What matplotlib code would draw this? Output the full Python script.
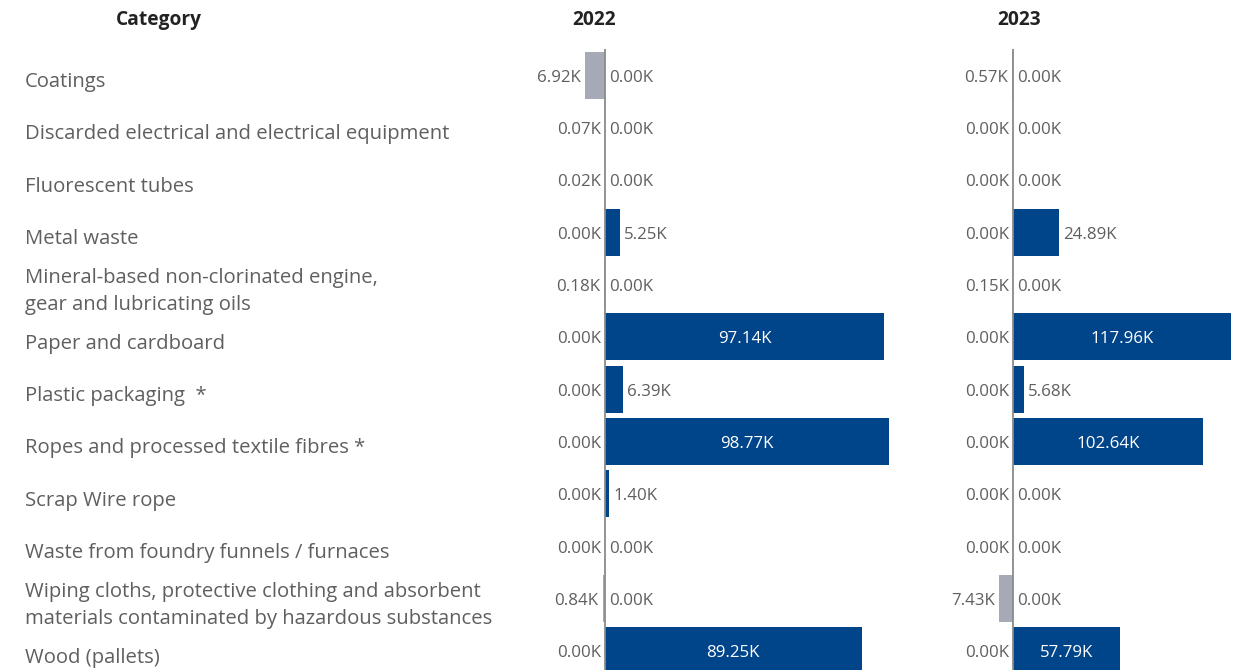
import matplotlib
matplotlib.use("Agg")
import matplotlib.pyplot as plt

categories = [
    "Coatings",
    "Discarded electrical and electrical equipment",
    "Fluorescent tubes",
    "Metal waste",
    "Mineral-based non-clorinated engine,\ngear and lubricating oils",
    "Paper and cardboard",
    "Plastic packaging  *",
    "Ropes and processed textile fibres *",
    "Scrap Wire rope",
    "Waste from foundry funnels / furnaces",
    "Wiping cloths, protective clothing and absorbent\nmaterials contaminated by hazardous substances",
    "Wood (pallets)",
]
years = ["2022", "2023"]
hazardous_2022 = [6.92, 0.07, 0.02, 0.00, 0.18, 0.00, 0.00, 0.00, 0.00, 0.00, 0.84, 0.00]
nonhaz_2022 = [0.00, 0.00, 0.00, 5.25, 0.00, 97.14, 6.39, 98.77, 1.40, 0.00, 0.00, 89.25]
hazardous_2023 = [0.57, 0.00, 0.00, 0.00, 0.15, 0.00, 0.00, 0.00, 0.00, 0.00, 7.43, 0.00]
nonhaz_2023 = [0.00, 0.00, 0.00, 24.89, 0.00, 117.96, 5.68, 102.64, 0.00, 0.00, 0.00, 57.79]

W, H = 1238, 670
fig = plt.figure(figsize=(W / 100, H / 100), dpi=100)
FONT = "Open Sans"
GREY = "#a6a9b6"
BLUE = "#004489"
TXT = "#5f5f5f"
VAL_FS = 12.2

n = len(categories)
top_px, bot_px = 49, 677
def ax_rect(x0, x1):
    return [x0 / W, (H - bot_px) / H, (x1 - x0) / W, (bot_px - top_px) / H]

# category column
axc = fig.add_axes(ax_rect(0, 500))
axc.set_ylim(n - 0.5, -0.5)
axc.set_xlim(0, 500)
axc.axis("off")
for i, c in enumerate(categories):
    axc.text(25, i + 0.13, c, ha="left", va="center", fontsize=14.6, color=TXT,
             family=FONT, linespacing=1.45)

fig.text(159 / W, 1 - 20 / H, "Category", ha="center", va="center",
         fontsize=13.8, fontweight="bold", family=FONT, color="#222222")

panels = [
    (hazardous_2022, nonhaz_2022, 605, 2.875, 500, 900, 594),
    (hazardous_2023, nonhaz_2023, 1013, 1.85, 920, 1236, 1019),
]
for (haz, non, axis_px, scale, x0, x1, hx), yr in zip(panels, years):
    ax = fig.add_axes(ax_rect(x0, x1))
    ax.set_xlim(-(axis_px - x0) / scale, (x1 - axis_px) / scale)
    ax.set_ylim(n - 0.5, -0.5)
    ax.axis("off")
    ys = list(range(n))
    ax.barh(ys, [-v for v in haz], height=0.9, color=GREY)
    ax.barh(ys, non, height=0.9, color=BLUE)
    ax.axvline(0, color="#8a8a8a", lw=1.3)
    pad = 4 / scale
    for i in range(n):
        ax.text(-haz[i] - pad, i + 0.05, f"{haz[i]:.2f}K", ha="right", va="center",
                fontsize=VAL_FS, color=TXT, family=FONT)
        wpx = non[i] * scale
        if wpx > 70:
            ax.text(non[i] / 2, i + 0.05, f"{non[i]:.2f}K", ha="center", va="center",
                    fontsize=VAL_FS, color="white", family=FONT)
        else:
            ax.text(non[i] + pad, i + 0.05, f"{non[i]:.2f}K", ha="left", va="center",
                    fontsize=VAL_FS, color=TXT, family=FONT)
    fig.text(hx / W, 1 - 20 / H, yr, ha="center", va="center",
             fontsize=13.8, fontweight="bold", family=FONT, color="#222222")

fig.savefig("out.png", dpi=100, facecolor="white")
